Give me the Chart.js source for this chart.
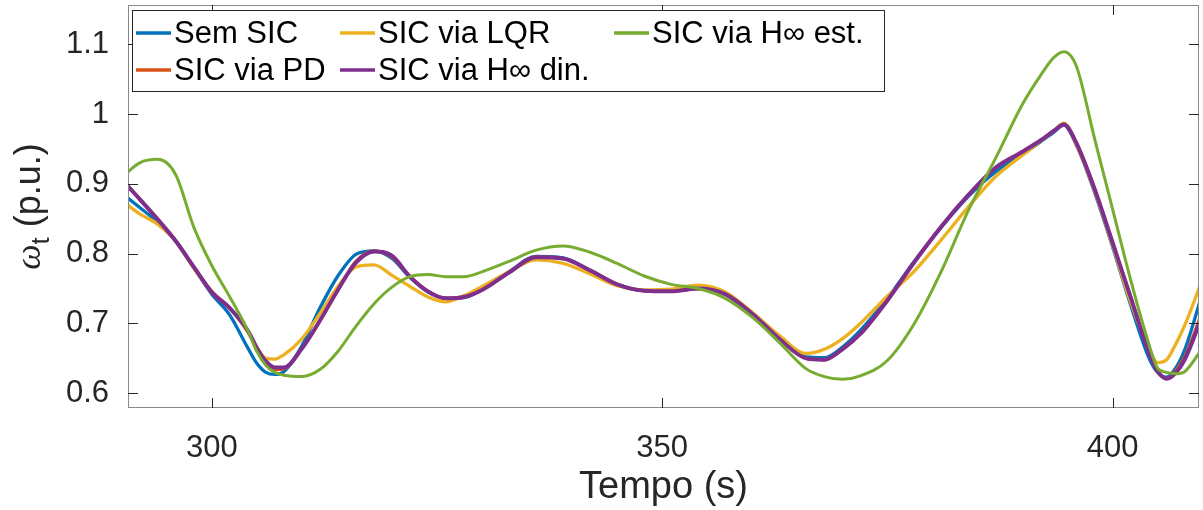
<!DOCTYPE html>
<html>
<head>
<meta charset="utf-8">
<script src="https://cdn.jsdelivr.net/npm/chart.js@4.4.0/dist/chart.umd.min.js"></script>
<style>
  html, body { margin: 0; padding: 0; background: #fff; }
</style>
</head>
<body>
<canvas id="grafico" width="1203" height="510"></canvas>
<script>
// Tempo (s)
const tempo = [290, 292, 294, 296, 298, 300, 302, 304, 305, 306, 307, 308, 310, 312, 314, 316, 318, 320, 322, 324, 326, 328, 330, 333, 336, 339, 342, 345, 348, 351, 354, 357, 360, 363, 366, 368, 370, 372, 375, 378, 381, 384, 387, 390, 392, 393.5, 394.6, 396, 398, 400, 402, 404, 405, 406, 407, 408, 410];

// omega_t (p.u.) de cada caso
const semSIC = [0.887, 0.866, 0.845, 0.818, 0.780, 0.742, 0.712, 0.665, 0.643, 0.630, 0.627, 0.631, 0.668, 0.722, 0.768, 0.799, 0.804, 0.793, 0.766, 0.745, 0.736, 0.737, 0.749, 0.774, 0.796, 0.794, 0.776, 0.756, 0.747, 0.747, 0.750, 0.742, 0.714, 0.679, 0.652, 0.651, 0.666, 0.690, 0.736, 0.789, 0.838, 0.882, 0.917, 0.942, 0.960, 0.974, 0.984, 0.955, 0.888, 0.810, 0.727, 0.652, 0.630, 0.623, 0.636, 0.662, 0.744];
const sicPD = [0.908, 0.878, 0.849, 0.818, 0.781, 0.744, 0.722, 0.688, 0.665, 0.643, 0.634, 0.635, 0.664, 0.704, 0.748, 0.789, 0.804, 0.795, 0.767, 0.746, 0.736, 0.738, 0.748, 0.773, 0.795, 0.793, 0.776, 0.756, 0.747, 0.746, 0.750, 0.742, 0.714, 0.678, 0.650, 0.648, 0.663, 0.685, 0.733, 0.788, 0.839, 0.884, 0.923, 0.946, 0.962, 0.976, 0.985, 0.958, 0.893, 0.816, 0.738, 0.660, 0.632, 0.621, 0.632, 0.652, 0.718];
const sicLQR = [0.876, 0.857, 0.842, 0.818, 0.779, 0.746, 0.722, 0.689, 0.666, 0.650, 0.649, 0.655, 0.678, 0.714, 0.753, 0.781, 0.784, 0.769, 0.753, 0.738, 0.731, 0.740, 0.753, 0.774, 0.791, 0.786, 0.771, 0.754, 0.748, 0.749, 0.755, 0.745, 0.716, 0.683, 0.657, 0.663, 0.678, 0.700, 0.739, 0.775, 0.820, 0.867, 0.910, 0.941, 0.961, 0.976, 0.987, 0.955, 0.890, 0.812, 0.731, 0.666, 0.644, 0.648, 0.670, 0.697, 0.764];
const sicHinfDin = [0.906, 0.878, 0.849, 0.818, 0.781, 0.745, 0.722, 0.690, 0.665, 0.646, 0.637, 0.637, 0.664, 0.704, 0.748, 0.787, 0.803, 0.797, 0.767, 0.746, 0.736, 0.738, 0.748, 0.773, 0.795, 0.793, 0.776, 0.756, 0.747, 0.746, 0.750, 0.742, 0.714, 0.678, 0.650, 0.648, 0.663, 0.685, 0.733, 0.788, 0.839, 0.884, 0.923, 0.946, 0.962, 0.976, 0.985, 0.958, 0.893, 0.816, 0.738, 0.660, 0.632, 0.621, 0.629, 0.648, 0.712];
const sicHinfEst = [0.909, 0.930, 0.935, 0.913, 0.838, 0.783, 0.738, 0.690, 0.660, 0.640, 0.630, 0.626, 0.624, 0.634, 0.660, 0.696, 0.728, 0.752, 0.767, 0.770, 0.767, 0.767, 0.774, 0.789, 0.805, 0.811, 0.802, 0.786, 0.768, 0.756, 0.750, 0.736, 0.709, 0.673, 0.635, 0.624, 0.620, 0.625, 0.647, 0.700, 0.775, 0.862, 0.936, 1.014, 1.055, 1.081, 1.089, 1.068, 0.965, 0.864, 0.763, 0.672, 0.636, 0.630, 0.628, 0.631, 0.665];

const rotulos = ['Sem SIC', 'SIC via PD', 'SIC via LQR', 'SIC via H\u221E din.', 'SIC via H\u221E est.'];
const cores = ['#0072BD', '#D95319', '#EDB120', '#7E2F8E', '#77AC30'];
const espessuras = [3.3, 3.3, 3.3, 4, 3];
const xTicks = [300, 350, 400];
const yTicks = [0.6, 0.7, 0.8, 0.9, 1, 1.1];

const fonte = '"Liberation Sans", Arial, Helvetica, sans-serif';
const corTexto = '#262626';

const series = [semSIC, sicPD, sicLQR, sicHinfDin, sicHinfEst];

// Monta os datasets (ultimo desenhado por cima, como no MATLAB)
const datasets = series.map((vals, i) => ({
  label: rotulos[i],
  data: tempo.map((t, k) => ({ x: t, y: vals[k] })),
  borderColor: cores[i],
  backgroundColor: cores[i],
  borderWidth: espessuras[i],
  pointRadius: 0,
  fill: false,
  cubicInterpolationMode: 'monotone',
  order: series.length - i
}));

// Caixa dos eixos + ticks para dentro
const caixaPlugin = {
  id: 'caixa',
  afterDatasetsDraw(chart) {
    const { ctx, chartArea: a, scales: { x, y } } = chart;
    ctx.save();
    ctx.lineWidth = 1;
    ctx.strokeStyle = '#8a8a8a';
    ctx.strokeRect(a.left + 0.5, a.top + 0.5, a.right - a.left - 1, a.bottom - a.top - 1);
    ctx.strokeStyle = corTexto;
    ctx.beginPath();
    xTicks.forEach(v => {
      const px = Math.round(x.getPixelForValue(v)) + 0.5;
      ctx.moveTo(px, a.bottom); ctx.lineTo(px, a.bottom - 10);
      ctx.moveTo(px, a.top); ctx.lineTo(px, a.top + 10);
    });
    yTicks.forEach(v => {
      const py = Math.round(y.getPixelForValue(v)) + 0.5;
      ctx.moveTo(a.left, py); ctx.lineTo(a.left + 10, py);
      ctx.moveTo(a.right, py); ctx.lineTo(a.right - 10, py);
    });
    ctx.stroke();
    ctx.restore();
  }
};

// Legenda em 3 colunas (preenchida por coluna)
const legendaPlugin = {
  id: 'legenda',
  afterDraw(chart) {
    const ctx = chart.ctx;
    const colX = [136, 340, 614];
    const linY = [33, 70];
    ctx.save();
    ctx.fillStyle = '#fff';
    ctx.fillRect(132, 10, 752, 81);
    ctx.strokeStyle = corTexto;
    ctx.lineWidth = 1;
    ctx.strokeRect(132.5, 10.5, 752, 81);
    ctx.font = '31px ' + fonte;
    ctx.textBaseline = 'middle';
    ctx.textAlign = 'left';
    chart.data.datasets.forEach((ds, i) => {
      const c = Math.floor(i / 2), r = i % 2;
      const x0 = colX[c], y0 = linY[r];
      ctx.strokeStyle = ds.borderColor;
      ctx.lineWidth = 3.5;
      ctx.beginPath();
      ctx.moveTo(x0, y0); ctx.lineTo(x0 + 35, y0);
      ctx.stroke();
      ctx.fillStyle = '#000';
      ctx.fillText(ds.label, x0 + 38, y0 + 1);
    });
    ctx.restore();
  }
};

// Titulo do eixo y com subscrito
const tituloYPlugin = {
  id: 'tituloY',
  afterDraw(chart) {
    const { ctx, chartArea: a } = chart;
    const fOmega = 'italic 36px "Liberation Serif", "DejaVu Serif", serif';
    const fSub = '26px ' + fonte;
    const fResto = '36px ' + fonte;
    const resto = ' (p.u.)';
    ctx.save();
    ctx.font = fOmega; const w1 = ctx.measureText('\u03C9').width;
    ctx.font = fSub; const w2 = ctx.measureText('t').width;
    ctx.font = fResto; const w3 = ctx.measureText(resto).width;
    const total = w1 + w2 + w3;
    ctx.translate(40, (a.top + a.bottom) / 2);
    ctx.rotate(-Math.PI / 2);
    ctx.fillStyle = corTexto;
    ctx.textBaseline = 'alphabetic';
    ctx.textAlign = 'left';
    let xx = -total / 2;
    ctx.font = fOmega; ctx.fillText('\u03C9', xx, 0); xx += w1;
    ctx.font = fSub; ctx.fillText('t', xx, 9); xx += w2;
    ctx.font = fResto; ctx.fillText(resto, xx, 0);
    ctx.restore();
  }
};

const ctx = document.getElementById('grafico').getContext('2d');
const grafico = new Chart(ctx, {
  type: 'line',
  data: { datasets: datasets },
  options: {
    responsive: false,
    animation: false,
    devicePixelRatio: 1,
    layout: { padding: { top: 5, right: 4, left: 0, bottom: 0 } },
    plugins: { legend: { display: false }, tooltip: { enabled: false } },
    scales: {
      x: {
        type: 'linear',
        min: 290.7,
        max: 409.6,
        grid: { display: false },
        border: { display: false },
        afterBuildTicks: s => { s.ticks = xTicks.map(v => ({ value: v })); },
        afterFit: s => { s.height = 102; s.paddingLeft = 0; s.paddingRight = 0; },
        ticks: {
          color: corTexto,
          font: { family: fonte, size: 31 },
          padding: 14,
          maxRotation: 0,
          autoSkip: false,
          callback: v => String(v)
        },
        title: {
          display: true,
          text: 'Tempo (s)',
          color: corTexto,
          font: { family: fonte, size: 38 },
          padding: { top: 0, bottom: 0 }
        }
      },
      y: {
        type: 'linear',
        min: 0.579,
        max: 1.156,
        grid: { display: false },
        border: { display: false },
        afterBuildTicks: s => { s.ticks = yTicks.map(v => ({ value: v })); },
        afterFit: s => { s.width = 128; s.paddingTop = 0; s.paddingBottom = 0; },
        ticks: {
          color: corTexto,
          font: { family: fonte, size: 31 },
          padding: 11,
          autoSkip: false,
          callback: v => (v === 1 ? '1' : v.toFixed(1))
        }
      }
    }
  },
  plugins: [caixaPlugin, legendaPlugin, tituloYPlugin]
});
</script>
</body>
</html>
